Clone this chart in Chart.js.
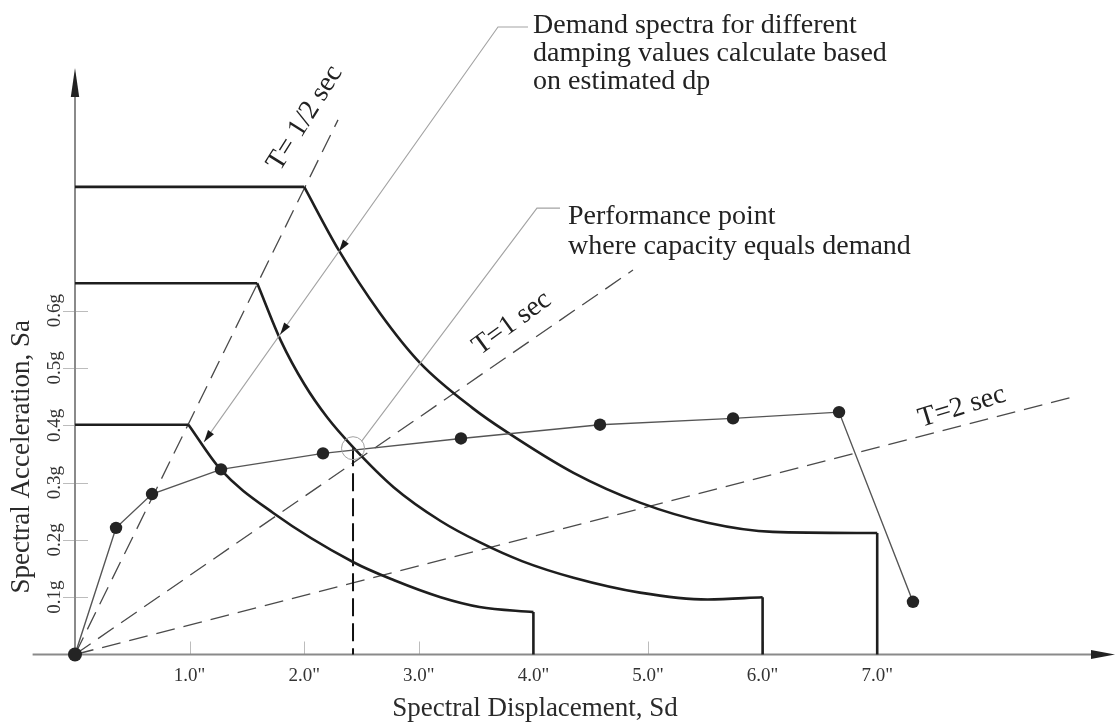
<!DOCTYPE html>
<html>
<head>
<meta charset="utf-8">
<script src="https://cdn.jsdelivr.net/npm/chart.js@4.4.1/dist/chart.umd.min.js"></script>
<style>
  html, body { margin: 0; padding: 0; background: #ffffff; }
  #wrap { width: 1120px; height: 722px; position: relative; }
  canvas { display: block; }
</style>
</head>
<body>
<div id="wrap"><canvas id="chart" width="1120" height="722"></canvas></div>
<script>
// ---------------- data ----------------
const xTickValues = [1, 2, 3, 4, 5, 6, 7];
const yTickValues = [0.1, 0.2, 0.3, 0.4, 0.5, 0.6];

// capacity curve (Sd in inches, Sa in g)
const capacitySd = [0, 0.358, 0.672, 1.274, 2.164, 3.368, 4.581, 5.742, 6.667, 7.312];
const capacitySa = [0, 0.221, 0.280, 0.323, 0.351, 0.377, 0.401, 0.412, 0.423, 0.092];

// demand spectra: first point = end of the plateau, last point = where it drops to zero
const demandHighSd = [2.00, 2.30, 2.66, 3.01, 3.47, 3.77, 4.35, 4.93, 5.52, 6.09, 7.00];
const demandHighSa = [0.816, 0.706, 0.596, 0.509, 0.430, 0.388, 0.317, 0.265, 0.230, 0.214, 0.212];
const demandMidSd  = [1.59, 1.80, 2.00, 2.20, 2.43, 2.78, 3.19, 3.53, 3.90, 4.35, 4.93, 5.52, 6.00];
const demandMidSa  = [0.648, 0.546, 0.472, 0.414, 0.361, 0.292, 0.233, 0.196, 0.163, 0.134, 0.108, 0.096, 0.100];
const demandLowSd  = [0.99, 1.27, 1.73, 2.43, 2.78, 3.19, 3.53, 4.00];
const demandLowSa  = [0.401, 0.323, 0.247, 0.161, 0.130, 0.100, 0.083, 0.074];

// constant-period radial lines from the origin (end points)
const periodNames = ['T= 1/2 sec', 'T=1 sec', 'T=2 sec'];
const periodEndSd = [2.295, 4.869, 8.682];
const periodEndSa = [0.933, 0.671, 0.448];

// performance point
const perfSd = 2.426;
const perfSa = 0.360;

// texts
const xTitle = 'Spectral Displacement, Sd';
const yTitle = 'Spectral Acceleration, Sa';
const demandNote = ['Demand spectra for different', 'damping values calculate based', 'on estimated dp'];
const perfNote = ['Performance point', 'where capacity equals demand'];

// ---------------- layout / annotation config ----------------
const SERIF = '"Liberation Serif", "Times New Roman", serif';
const axisExtent = { xFrom: -0.37, xTo: 9.075, yTo: 1.0236 };
const labelCfg = [
  { sd: 2.007, sa: 0.936, angle: -58 },
  { sd: 3.813, sa: 0.578, angle: -36 },
  { sd: 7.740, sa: 0.432, angle: -17 }
];
const demandLeader = { start: [3.953, 1.095], elbow: [3.691, 1.095], end: [1.126, 0.371], arrowsAt: [0.541, 0.741, 1.0] };
const perfLeader = { start: [4.232, 0.779], elbow: [4.031, 0.779], end: [2.50, 0.372] };
const demandNotePos = { sd: 3.997, sa: 1.0846, pitch: 28 };
const perfNotePos = { sd: 4.302, sa: 0.7513, pitch: 30 };

// ---------------- datasets ----------------
const pts = (xs, ys) => xs.map((v, i) => ({ x: v, y: ys[i] }));
const datasets = [];

periodEndSd.forEach((sd, i) => {
  datasets.push({
    data: [{ x: 0, y: 0 }, { x: sd, y: periodEndSa[i] }],
    borderColor: '#4a4a4a', borderWidth: 1.3, borderDash: [19, 9],
    pointRadius: 0, fill: false, clip: false, order: 5
  });
});

datasets.push({
  data: [{ x: perfSd, y: perfSa }, { x: perfSd, y: 0 }],
  borderColor: '#111111', borderWidth: 2, borderDash: [18, 7],
  pointRadius: 0, clip: false, order: 4
});

[[demandHighSd, demandHighSa], [demandMidSd, demandMidSa], [demandLowSd, demandLowSa]].forEach(([sd, sa]) => {
  const style = { borderColor: '#1e1e1e', borderWidth: 2.6, pointRadius: 0, fill: false, clip: false, order: 3 };
  datasets.push(Object.assign({ data: [{ x: 0, y: sa[0] }, { x: sd[0], y: sa[0] }] }, style));
  datasets.push(Object.assign({ data: pts(sd, sa), cubicInterpolationMode: 'monotone' }, style));
  const n = sd.length - 1;
  datasets.push(Object.assign({ data: [{ x: sd[n], y: sa[n] }, { x: sd[n], y: 0 }] }, style));
});

datasets.push({
  data: pts(capacitySd, capacitySa),
  borderColor: '#555555', borderWidth: 1.4,
  pointRadius: ctx => (ctx.dataIndex === 0 ? 7 : 6.2),
  pointBackgroundColor: '#242424', pointBorderWidth: 0, pointHoverRadius: 0,
  fill: false, clip: false, order: 2
});

datasets.push({
  data: [{ x: perfSd, y: perfSa }],
  showLine: false, pointRadius: 11.5, pointBackgroundColor: 'rgba(0,0,0,0)',
  pointBorderColor: '#a0a0a0', pointBorderWidth: 1, clip: false, order: 1
});

// ---------------- drawing helpers ----------------
function arrowHead(ctx, tx, ty, fx, fy, len, hw) {
  const a = Math.atan2(ty - fy, tx - fx);
  ctx.save();
  ctx.translate(tx, ty);
  ctx.rotate(a);
  ctx.beginPath();
  ctx.moveTo(0, 0);
  ctx.lineTo(-len, hw);
  ctx.lineTo(-len, -hw);
  ctx.closePath();
  ctx.fill();
  ctx.restore();
}

const overlay = {
  id: 'overlay',
  beforeDatasetsDraw(chart) {
    const { ctx, scales: { x, y } } = chart;
    const X = v => x.getPixelForValue(v), Y = v => y.getPixelForValue(v);
    ctx.save();
    // tick marks
    ctx.strokeStyle = '#bcbcbc';
    ctx.lineWidth = 1;
    x.ticks.forEach(t => {
      const p = Math.round(X(t.value)) + 0.5;
      ctx.beginPath(); ctx.moveTo(p, Y(0) - 13); ctx.lineTo(p, Y(0)); ctx.stroke();
    });
    y.ticks.forEach(t => {
      const p = Math.round(Y(t.value)) + 0.5;
      ctx.beginPath(); ctx.moveTo(X(0) - 12, p); ctx.lineTo(X(0) + 13, p); ctx.stroke();
    });
    // axes
    ctx.strokeStyle = '#8a8a8a';
    ctx.lineWidth = 2;
    ctx.beginPath();
    ctx.moveTo(X(axisExtent.xFrom), Y(0)); ctx.lineTo(X(axisExtent.xTo) - 20, Y(0));
    ctx.moveTo(X(0), Y(0)); ctx.lineTo(X(0), Y(axisExtent.yTo) + 25);
    ctx.stroke();
    ctx.fillStyle = '#222222';
    arrowHead(ctx, X(axisExtent.xTo), Y(0), X(0), Y(0), 24, 4.5);
    arrowHead(ctx, X(0), Y(axisExtent.yTo), X(0), Y(0), 29, 4.2);
    ctx.restore();
  },
  afterDatasetsDraw(chart) {
    const { ctx, scales: { x, y } } = chart;
    const X = v => x.getPixelForValue(v), Y = v => y.getPixelForValue(v);
    ctx.save();
    // leader lines
    ctx.strokeStyle = '#a3a3a3';
    ctx.lineWidth = 1.1;
    [demandLeader, perfLeader].forEach(L => {
      ctx.beginPath();
      ctx.moveTo(X(L.start[0]), Y(L.start[1]));
      ctx.lineTo(X(L.elbow[0]), Y(L.elbow[1]));
      ctx.lineTo(X(L.end[0]), Y(L.end[1]));
      ctx.stroke();
    });
    ctx.fillStyle = '#1a1a1a';
    const ex = X(demandLeader.elbow[0]), ey = Y(demandLeader.elbow[1]);
    const dx = X(demandLeader.end[0]) - ex, dy = Y(demandLeader.end[1]) - ey;
    demandLeader.arrowsAt.forEach(t => {
      arrowHead(ctx, ex + dx * t, ey + dy * t, ex, ey, 12, 3.6);
    });

    // notes
    ctx.fillStyle = '#222222';
    ctx.font = '28px ' + SERIF;
    ctx.textAlign = 'left';
    ctx.textBaseline = 'alphabetic';
    demandNote.forEach((s, i) => ctx.fillText(s, X(demandNotePos.sd), Y(demandNotePos.sa) + i * demandNotePos.pitch));
    perfNote.forEach((s, i) => ctx.fillText(s, X(perfNotePos.sd), Y(perfNotePos.sa) + i * perfNotePos.pitch));

    // period labels
    periodNames.forEach((s, i) => {
      const c = labelCfg[i];
      ctx.save();
      ctx.translate(X(c.sd), Y(c.sa));
      ctx.rotate(c.angle * Math.PI / 180);
      ctx.textAlign = 'center';
      ctx.textBaseline = 'middle';
      ctx.fillText(s, 0, 0);
      ctx.restore();
    });

    // axis titles
    ctx.fillStyle = '#2a2a2a';
    ctx.font = '27px ' + SERIF;
    ctx.textAlign = 'center';
    ctx.textBaseline = 'alphabetic';
    ctx.fillText(xTitle, X(4.014), Y(0) + 61);
    ctx.save();
    ctx.translate(X(0) - 53, Y(0.345));
    ctx.rotate(-Math.PI / 2);
    ctx.textBaseline = 'middle';
    ctx.fillText(yTitle, 0, 0);
    ctx.restore();
    ctx.restore();
  }
};

const zeroPadding = s => { s.paddingLeft = 0; s.paddingRight = 0; s.paddingTop = 0; s.paddingBottom = 0; };

Chart.defaults.font.family = SERIF;

new Chart(document.getElementById('chart'), {
  type: 'line',
  data: { datasets },
  options: {
    responsive: false,
    animation: false,
    devicePixelRatio: 1,
    events: [],
    layout: { autoPadding: false, padding: { top: 0, right: 5, left: 0, bottom: 0 } },
    plugins: { legend: { display: false }, tooltip: { enabled: false } },
    elements: { line: { tension: 0 } },
    scales: {
      x: {
        type: 'linear', min: 0, max: axisExtent.xTo,
        afterBuildTicks: s => { s.ticks = xTickValues.map(v => ({ value: v })); },
        afterFit: s => { s.height = 67.5; zeroPadding(s); },
        grid: { display: false, drawTicks: false },
        border: { display: false },
        ticks: {
          autoSkip: false, maxRotation: 0, minRotation: 0, padding: 10,
          color: '#333333', font: { size: 19, family: SERIF },
          callback: v => v.toFixed(1) + '"'
        }
      },
      y: {
        type: 'linear', min: 0, max: 1.1422,
        afterBuildTicks: s => { s.ticks = yTickValues.map(v => ({ value: v })); },
        afterFit: s => { s.width = 75; zeroPadding(s); },
        grid: { display: false, drawTicks: false },
        border: { display: false },
        ticks: {
          autoSkip: false, minRotation: 90, maxRotation: 90, crossAlign: 'center', padding: 3,
          color: '#333333', font: { size: 19, family: SERIF },
          callback: v => v.toFixed(1) + 'g'
        }
      }
    }
  },
  plugins: [overlay]
});
</script>
</body>
</html>
